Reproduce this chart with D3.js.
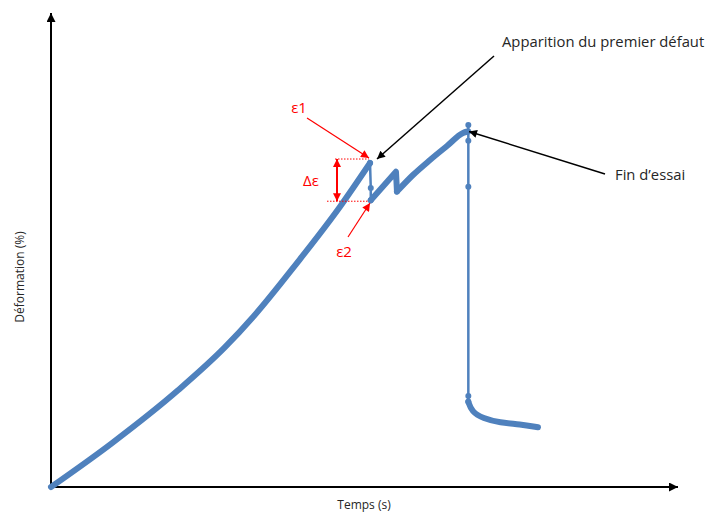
<!DOCTYPE html>
<html>
<head>
<meta charset="utf-8">
<script src="https://cdn.jsdelivr.net/npm/d3@7"></script>
<style>
  html, body { margin: 0; padding: 0; background: #fff; }
  svg { display: block; font-family: "Open Sans", "DejaVu Sans", sans-serif; }
</style>
</head>
<body>
<svg id="chart" width="707" height="514"></svg>
<script>
// ---- Data (time in arbitrary units, deformation in %) ----
const riseTime   = [0, 9.68, 20.3, 27.75, 32.26, 39.19, 46.09, 50.88];
const riseDef    = [0, 9.22, 20.46, 29.5, 35.93, 47.2, 59.13, 68.35];

const firstDropTime = [50.88, 51.0, 51.0];
const firstDropDef  = [68.35, 63.1, 60.5];

const midTime = [51.0, 55.02, 55.18, 57.73, 60.45, 63.16, 65.71, 66.43];
const midDef  = [60.5, 66.5, 62.34, 65.82, 68.99, 71.94, 74.68, 75.0];

const finalDropTime = [66.56, 66.56, 66.56, 66.56, 66.56, 66.56];
const finalDropDef  = [76.37, 75.0, 73.06, 63.35, 19.2, 18.0];

const tailTime = [66.56, 67.1, 68.9, 71.61, 74.8, 77.67];
const tailDef  = [18.0, 15.89, 14.49, 13.57, 13.23, 12.6];

const xLabel = "Temps (s)";
const yLabel = "Déformation (%)";
const noteDefect = "Apparition du premier défaut";
const noteEnd = "Fin d\u2019essai";
const labelE1 = "ε1", labelE2 = "ε2", labelDE = "Δε";

// ---- Layout ----
const svg = d3.select("#chart");
const x0 = 51, x1 = 678, y0 = 487, y1 = 13;
const x = d3.scaleLinear().domain([0, 100]).range([x0, x1]);
const y = d3.scaleLinear().domain([0, 100]).range([y0, y1]);
const blue = "#4f81bd", red = "#ff0000", ink = "#262626";

const defs = svg.append("defs");
function marker(id, color, w, h) {
  defs.append("marker").attr("id", id)
    .attr("viewBox", "0 0 10 10").attr("refX", 10).attr("refY", 5)
    .attr("markerUnits", "userSpaceOnUse")
    .attr("markerWidth", w).attr("markerHeight", h)
    .attr("orient", "auto-start-reverse")
    .append("path").attr("d", "M0,0 L10,5 L0,10 Z").attr("fill", color);
}
marker("axArrow", "#000", 10, 9);
marker("blkArrow", "#000", 10, 8);
marker("redArrow", red, 9, 8);

// Axes
svg.append("line").attr("x1", x(0)).attr("y1", y(0)).attr("x2", x(0)).attr("y2", y(100))
  .attr("stroke", "#000").attr("stroke-width", 2).attr("marker-end", "url(#axArrow)");
svg.append("line").attr("x1", x(0)).attr("y1", y(0)).attr("x2", x(100)).attr("y2", y(0))
  .attr("stroke", "#000").attr("stroke-width", 2).attr("marker-end", "url(#axArrow)");

svg.append("text").attr("x", 364).attr("y", 509).attr("text-anchor", "middle")
  .attr("font-size", 12).attr("fill", ink).text(xLabel);
svg.append("text").attr("transform", "translate(24,277) rotate(-90)").attr("text-anchor", "middle")
  .attr("font-size", 12).attr("fill", ink).text(yLabel);

// Data series
const zip = (ts, ds) => ts.map((t, i) => [t, ds[i]]);
const thickLine = d3.line().x(d => x(d[0])).y(d => y(d[1])).curve(d3.curveMonotoneX);
const plainLine = d3.line().x(d => x(d[0])).y(d => y(d[1]));

// thin vertical drops with markers
[zip(firstDropTime, firstDropDef), zip(finalDropTime, finalDropDef)].forEach(pts => {
  svg.append("path").attr("d", plainLine(pts)).attr("fill", "none")
    .attr("stroke", blue).attr("stroke-width", 2.5);
  svg.selectAll(null).data(pts).enter().append("circle")
    .attr("cx", d => x(d[0])).attr("cy", d => y(d[1])).attr("r", 3).attr("fill", blue);
});

// thick dense segments
svg.append("path").attr("d", thickLine(zip(riseTime, riseDef))).attr("fill", "none")
  .attr("stroke", blue).attr("stroke-width", 6).attr("stroke-linecap", "round");
svg.append("path").attr("d", plainLine(zip(midTime, midDef).slice(0, 3))).attr("fill", "none")
  .attr("stroke", blue).attr("stroke-width", 6).attr("stroke-linecap", "round").attr("stroke-linejoin", "round");
svg.append("path").attr("d", thickLine(zip(midTime, midDef).slice(2))).attr("fill", "none")
  .attr("stroke", blue).attr("stroke-width", 6).attr("stroke-linecap", "round");
svg.append("path").attr("d", d3.line().x(d => x(d[0])).y(d => y(d[1])).curve(d3.curveBasis)(zip(tailTime, tailDef)))
  .attr("fill", "none").attr("stroke", blue).attr("stroke-width", 6).attr("stroke-linecap", "round");

// ---- Annotations ----
const peakY = y(riseDef[riseDef.length - 1]) - 4;
const troughY = y(firstDropDef[firstDropDef.length - 1]) + 1;
const dropX = x(firstDropTime[1]);

svg.append("line").attr("x1", 335).attr("x2", dropX - 2).attr("y1", peakY).attr("y2", peakY)
  .attr("stroke", red).attr("stroke-width", 1).attr("stroke-dasharray", "1.5,1.5");
svg.append("line").attr("x1", 327).attr("x2", dropX - 2).attr("y1", troughY).attr("y2", troughY)
  .attr("stroke", red).attr("stroke-width", 1).attr("stroke-dasharray", "1.5,1.5");

svg.append("line").attr("x1", 337).attr("x2", 337).attr("y1", peakY + 8).attr("y2", troughY - 8)
  .attr("stroke", red).attr("stroke-width", 2);
svg.append("line").attr("x1", 337).attr("x2", 337).attr("y1", peakY + 9).attr("y2", peakY)
  .attr("stroke", red).attr("stroke-width", 2).attr("marker-end", "url(#redArrow)");
svg.append("line").attr("x1", 337).attr("x2", 337).attr("y1", troughY - 9).attr("y2", troughY)
  .attr("stroke", red).attr("stroke-width", 2).attr("marker-end", "url(#redArrow)");

svg.append("line").attr("x1", 307).attr("y1", 118).attr("x2", 369).attr("y2", 158)
  .attr("stroke", red).attr("stroke-width", 1.2).attr("marker-end", "url(#redArrow)");
svg.append("line").attr("x1", 348).attr("y1", 237).attr("x2", 370).attr("y2", 203)
  .attr("stroke", red).attr("stroke-width", 1.2).attr("marker-end", "url(#redArrow)");

svg.append("text").attr("x", 299).attr("y", 113).attr("text-anchor", "middle")
  .attr("font-size", 15).attr("fill", red).text(labelE1);
svg.append("text").attr("x", 344).attr("y", 257).attr("text-anchor", "middle")
  .attr("font-size", 15).attr("fill", red).text(labelE2);
svg.append("text").attr("x", 311).attr("y", 186).attr("text-anchor", "middle")
  .attr("font-size", 15).attr("fill", red).text(labelDE);

svg.append("line").attr("x1", 494).attr("y1", 56).attr("x2", 377).attr("y2", 159)
  .attr("stroke", "#000").attr("stroke-width", 1.5).attr("marker-end", "url(#blkArrow)");
svg.append("line").attr("x1", 605).attr("y1", 174).attr("x2", 469).attr("y2", 131.5)
  .attr("stroke", "#000").attr("stroke-width", 1.5).attr("marker-end", "url(#blkArrow)");

svg.append("text").attr("x", 502).attr("y", 47).attr("font-size", 14.8).attr("fill", ink).text(noteDefect);
svg.append("text").attr("x", 615).attr("y", 180).attr("font-size", 14.8).attr("fill", ink).text(noteEnd);
</script>
</body>
</html>
